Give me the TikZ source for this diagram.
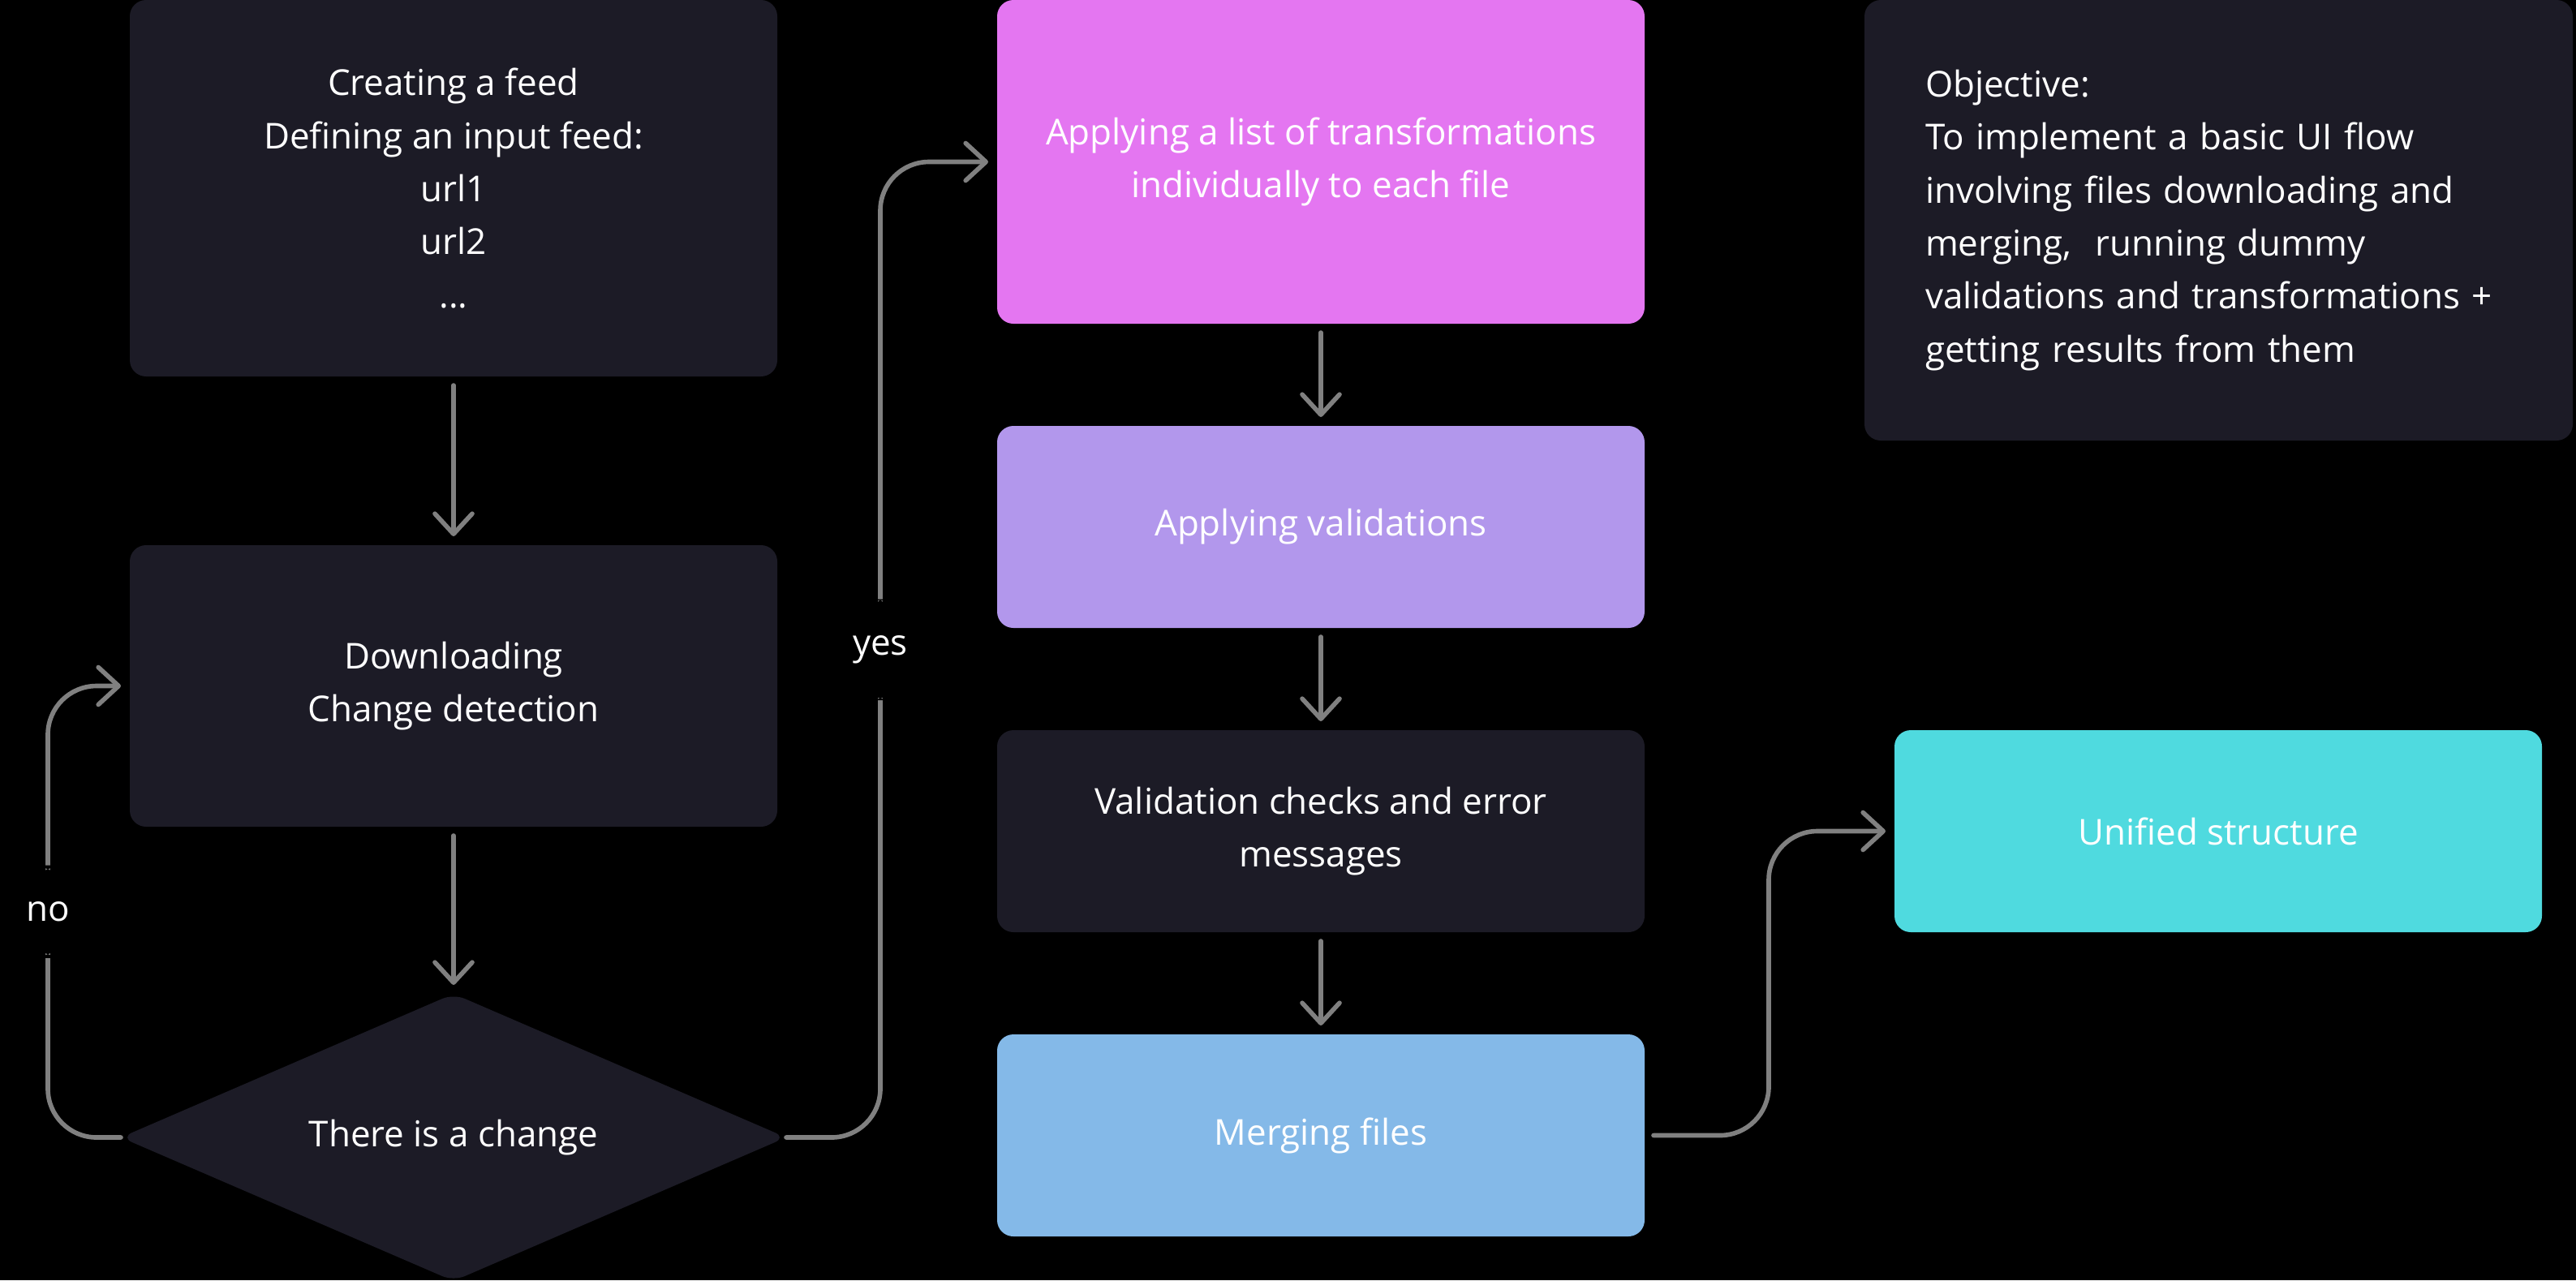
\documentclass[tikz,border=0pt]{standalone}
\usepackage{fontspec}
\setmainfont{Open Sans}
\usetikzlibrary{positioning,shapes.geometric,arrows.meta}
\definecolor{boxdark}{HTML}{1C1B26}
\definecolor{boxpink}{HTML}{E476F1}
\definecolor{boxlilac}{HTML}{B297EC}
\definecolor{boxsky}{HTML}{84B9E8}
\definecolor{boxteal}{HTML}{4FDADF}
\definecolor{flowgray}{HTML}{808080}
\tikzset{
  stepbox/.style={rectangle, rounded corners=0.2cm, fill=boxdark, text=white, align=center,
    minimum width=7.98cm, inner sep=0pt, outer sep=0pt, font=\fontsize{12.5}{18.6}\selectfont},
  flow/.style={draw=flowgray, line width=1.6pt, line cap=round, rounded corners=0.6cm,
    -{Straight Barb[length=0.25cm,width=0.46cm,round]}, shorten <=0.11cm, shorten >=0.11cm},
  branch/.style={fill=black, text=white, inner xsep=0.1cm, inner ysep=0.45cm,
    font=\fontsize{12.5}{18.6}\selectfont}
}

\begin{document}
\begin{tikzpicture}
    \fill[black] (0,0) rectangle (31.75,-15.78);
    \useasboundingbox (0,0) rectangle (31.75,-15.78);

    % left column
    \node (feed) [stepbox, minimum height=4.64cm, anchor=north] at (5.59,0)
      {Creating a feed\\Defining an input feed:\\url1\\url2\\...};
    \node (dl) [stepbox, minimum height=3.47cm, below=2.08cm of feed]
      {Downloading\\Change detection};
    \node (dia) [stepbox, diamond, aspect=2.3, rounded corners=0.15cm,
      minimum width=8.2cm, minimum height=3.54cm, below=2.06cm of dl] {There is a change};

    % middle column
    \node (trans) [stepbox, fill=boxpink, minimum height=3.99cm, anchor=north] at (16.28,0)
      {Applying a list of transformations\\individually to each file};
    \node (valid) [stepbox, fill=boxlilac, minimum height=2.49cm, below=1.26cm of trans]
      {Applying validations};
    \node (checks) [stepbox, minimum height=2.49cm, below=1.26cm of valid]
      {Validation checks and error\\messages};
    \node (merge) [stepbox, fill=boxsky, minimum height=2.49cm, below=1.26cm of checks]
      {Merging files};

    % right column
    \node (obj) [stepbox, align=left, text width=7.23cm, inner xsep=0.75cm,
      minimum height=5.43cm, anchor=north] at (27.345,0)
      {Objective:\\To implement a basic UI flow\\involving files downloading and\\merging,~ running dummy\\validations and transformations +\\getting results from them};
    \node (unified) [stepbox, fill=boxteal, minimum height=2.49cm, right=3.08cm of checks]
      {Unified structure};

    \path[flow]
      (feed) edge (dl)
      (dl) edge (dia)
      (trans) edge (valid)
      (valid) edge (checks)
      (checks) edge (merge)
      ;
    \draw[flow, shorten <=0pt] (dia.west) -- ++(-0.90,0) |- node[branch, pos=0.25] {no} (dl.west);
    \draw[flow, shorten <=0pt] (dia.east) -- ++(1.16,0) |- node[branch, pos=0.25] {yes} (trans.west);
    \draw[flow] (merge.east) -- ++(1.53,0) |- (unified.west);
\end{tikzpicture}
\end{document}
